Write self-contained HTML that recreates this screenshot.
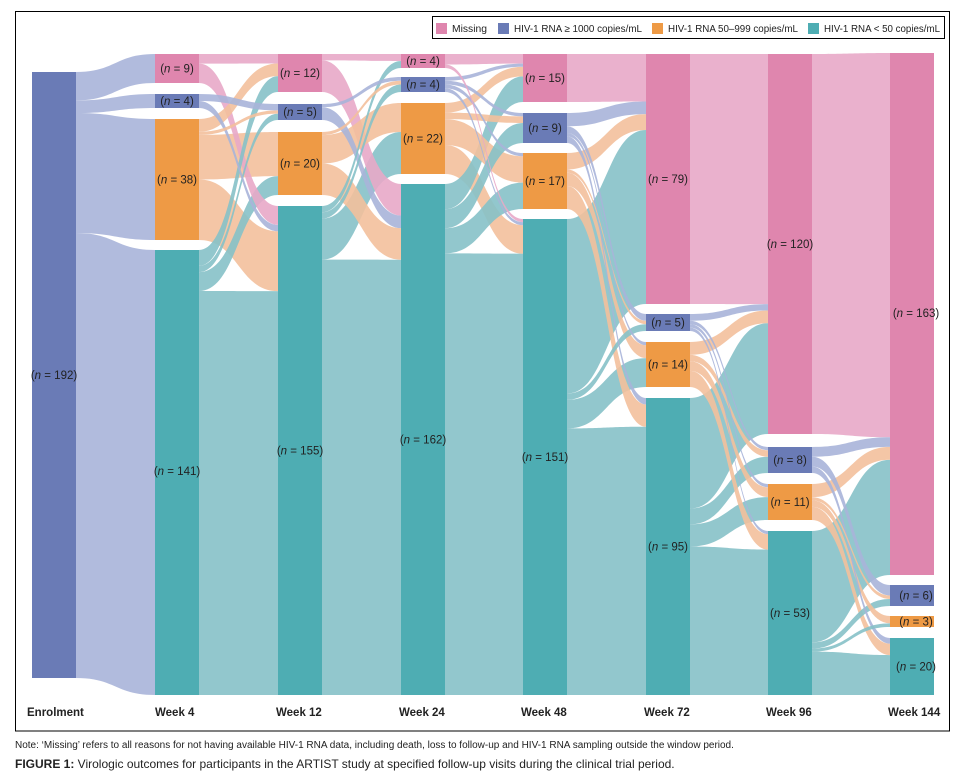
<!DOCTYPE html>
<html><head><meta charset="utf-8"><style>
body{margin:0;background:#fff;width:960px;height:775px;overflow:hidden;font-family:"Liberation Sans",sans-serif}
svg{position:absolute;left:0;top:0}
</style></head><body>
<svg id="s" width="960" height="775" xmlns="http://www.w3.org/2000/svg">
<rect x="15.5" y="11.5" width="934" height="719.5" fill="none" stroke="#000" stroke-width="1"/>
<g id="flows"></g><g id="nodes"></g><g id="labels" font-family="Liberation Sans, sans-serif" font-size="11.5" fill="#222" text-anchor="middle"></g>
<rect x="432.5" y="16.5" width="512" height="22" fill="#fff" stroke="#000"/>
<rect x="436" y="23" width="11" height="11" fill="#df86ae"/><text x="452" y="32" font-size="10" fill="#222" textLength="35" lengthAdjust="spacingAndGlyphs">Missing</text>
<rect x="498" y="23" width="11" height="11" fill="#6a7bb6"/><text x="514" y="32" font-size="10" fill="#222" textLength="128" lengthAdjust="spacingAndGlyphs">HIV-1 RNA ≥ 1000 copies/mL</text>
<rect x="652" y="23" width="11" height="11" fill="#ee9a45"/><text x="668" y="32" font-size="10" fill="#222" textLength="130" lengthAdjust="spacingAndGlyphs">HIV-1 RNA 50–999 copies/mL</text>
<rect x="808" y="23" width="11" height="11" fill="#4eadb3"/><text x="824" y="32" font-size="10" fill="#222" textLength="116" lengthAdjust="spacingAndGlyphs">HIV-1 RNA &lt; 50 copies/mL</text>
<g font-weight="bold" font-size="11.5" fill="#222">
<text x="27" y="716">Enrolment</text><text x="155" y="716">Week 4</text><text x="276" y="716">Week 12</text><text x="399" y="716">Week 24</text><text x="521" y="716">Week 48</text><text x="644" y="716">Week 72</text><text x="766" y="716">Week 96</text><text x="888" y="716">Week 144</text>
</g>
<text x="15" y="748" font-size="10" fill="#222">Note: ‘Missing’ refers to all reasons for not having available HIV-1 RNA data, including death, loss to follow-up and HIV-1 RNA sampling outside the window period.</text>
<text x="15" y="768" font-size="12" fill="#222"><tspan font-weight="bold">FIGURE 1:</tspan> Virologic outcomes for participants in the ARTIST study at specified follow-up visits during the clinical trial period.</text>
</svg>
<script>
var NC=["#df86ae","#6a7bb6","#ee9a45","#4eadb3"],FC=["#e8a9c8","#a9b4d9","#f3c09c","#86c1c8"];
var cols=[
 {x:32,n:[[72,678,192]],c:[1]},
 {x:155,n:[[54,83,9],[94,108,4],[119,240,38],[250,695,141]]},
 {x:278,n:[[54,92,12],[104,120,5],[132,195,20],[206,695,155]]},
 {x:401,n:[[54,68,4],[77,92,4],[103,174,22],[184,695,162]]},
 {x:523,n:[[54,102,15],[113,143,9],[153,209,17],[219,695,151]]},
 {x:646,n:[[54,304,79],[314,331,5],[342,387,14],[398,695,95]]},
 {x:768,n:[[54,434,120],[447,473,8],[484,520,11],[531,695,53]]},
 {x:890,n:[[53,575,163],[585,606,6],[616,627,3],[638,695,20]]}];
var W=44;
var M=[
 [[9,4,38,141]],
 [[3,0,0,6],[0,2,0,2],[4,1,14,19],[5,2,6,128]],
 [[2,0,0,10],[0,1,0,4],[0,1,9,10],[2,2,13,138]],
 [[3,0,0,1],[1,1,1,1],[3,2,8,9],[8,6,8,140]],
 [[15,0,0,0],[4,2,1,2],[5,1,4,7],[55,2,9,84]],
 [[79,0,0,0],[2,1,1,1],[4,2,3,5],[35,5,7,47]],
 [[120,0,0,0],[3,3,0,2],[4,1,2,4],[36,2,1,14]]];
var fl=[],ns="http://www.w3.org/2000/svg";
for(var t=0;t<7;t++){
 var A=cols[t],B=cols[t+1],m=M[t];
 var so=A.n.map(function(n){return n[0]}),to=B.n.map(function(n){return n[0]});
 var srcTot=m.map(function(r){return r.reduce(function(a,b){return a+b},0)});
 var tgtTot=[0,0,0,0];m.forEach(function(r){r.forEach(function(v,j){tgtTot[j]+=v})});
 var pos={};
 for(var i=0;i<m.length;i++)for(var j=0;j<4;j++){var v=m[i][j];if(!v)continue;
  var ks=(A.n[i][1]-A.n[i][0])/srcTot[i];
  var y0=so[i],y1=y0+v*ks;so[i]=y1;pos[i+"_"+j]=[y0,y1,v,i,j,ks];}
 for(var j=0;j<4;j++)for(var i=0;i<m.length;i++){var p=pos[i+"_"+j];if(!p)continue;
  var kt=(B.n[j][1]-B.n[j][0])/tgtTot[j];var z0=to[j],z1=z0+p[2]*kt;to[j]=z1;
  var x0=A.x+W,x1=B.x,xm=(x0+x1)/2;
  var d="M"+x0+","+p[0]+"C"+xm+","+p[0]+" "+xm+","+z0+" "+x1+","+z0+"L"+x1+","+z1+"C"+xm+","+z1+" "+xm+","+p[1]+" "+x0+","+p[1]+"Z";
  var col=t==0?FC[1]:FC[i];fl.push([p[2],d,col]);}
}
fl.sort(function(a,b){return b[0]-a[0]});
var g=document.getElementById("flows");
fl.forEach(function(f){var e=document.createElementNS(ns,"path");e.setAttribute("d",f[1]);e.setAttribute("fill",f[2]);e.setAttribute("fill-opacity","0.9");g.appendChild(e);});
var gn=document.getElementById("nodes"),gl=document.getElementById("labels");
cols.forEach(function(c,ci){c.n.forEach(function(n,k){
 var r=document.createElementNS(ns,"rect");r.setAttribute("x",c.x);r.setAttribute("y",n[0]);r.setAttribute("width",W);r.setAttribute("height",n[1]-n[0]);
 r.setAttribute("fill",ci==0?NC[1]:NC[k]);gn.appendChild(r);
 var ty=(n[0]+n[1])/2+4;if(ci==1&&k==3)ty=475;if(ci==7&&k==0)ty=317;
 var tx=document.createElementNS(ns,"text");tx.setAttribute("x",c.x+W/2+(ci==7?4:0));tx.setAttribute("y",ty);
 tx.innerHTML='(<tspan font-style="italic">n</tspan> = '+n[2]+')';gl.appendChild(tx);});});
</script>
</body></html>
